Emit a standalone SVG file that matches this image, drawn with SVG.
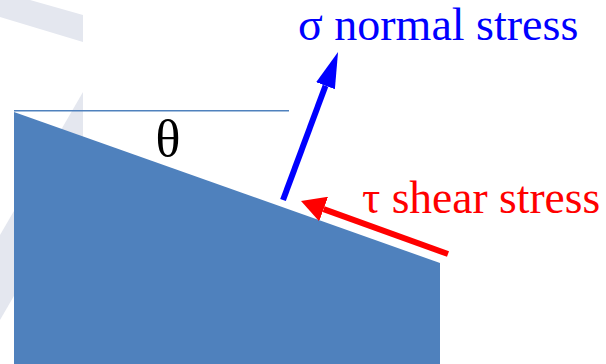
<svg xmlns="http://www.w3.org/2000/svg" width="606" height="364" viewBox="0 0 606 364">
  <style>
    .wm { fill: #e4e7ef; }
    .lbl { font-family: "Liberation Serif", "Times New Roman", serif; }
    .blk { fill: #4f81bd; }
  </style>
  <defs>
    <marker id="headBlue" markerUnits="userSpaceOnUse" viewBox="0 0 36 20" markerWidth="36" markerHeight="20" refX="0" refY="10" orient="auto">
      <path d="M0,0 L36,10 L0,20 z" fill="#0000ff"/>
    </marker>
    <marker id="headRed" markerUnits="userSpaceOnUse" viewBox="0 0 24 26" markerWidth="24" markerHeight="26" refX="0" refY="13" orient="auto">
      <path d="M0,0 L24,13 L0,26 z" fill="#ff0000"/>
    </marker>
  </defs>
  <rect width="606" height="364" fill="#ffffff"/>
  <g id="watermark">
    <polygon class="wm" points="0,0 30,0 83,15 83,42 0,17"/>
    <polygon class="wm" points="83,92 83,177 0,320 0,235"/>
  </g>
  <g id="block">
    <polygon class="blk" points="14,112 440,263 440,364 14,364"/>
    <line x1="14" y1="110.8" x2="289" y2="110.8" stroke="#4f81bd" stroke-width="1.6"/>
  </g>
  <g id="theta">
    <text class="lbl" x="168" y="156" font-size="52" text-anchor="middle" fill="#000000">θ</text>
  </g>
  <g id="connectors">
    <line x1="283" y1="200" x2="325.5" y2="85.7" stroke="#0000ff" stroke-width="6" marker-end="url(#headBlue)"/>
    <line x1="448" y1="254" x2="323.6" y2="209.1" stroke="#ff0000" stroke-width="6" marker-end="url(#headRed)"/>
  </g>
  <g id="normal-label">
    <text class="lbl" x="298" y="40" font-size="46" fill="#0000ff">σ normal stress</text>
  </g>
  <g id="shear-label">
    <text class="lbl" x="362" y="213" font-size="45.5" fill="#ff0000">τ shear stress</text>
  </g>
</svg>
